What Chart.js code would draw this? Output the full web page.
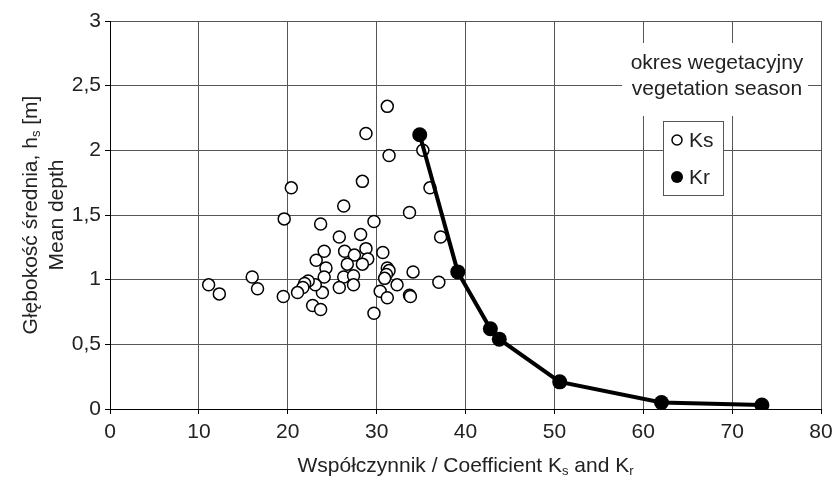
<!DOCTYPE html>
<html>
<head>
<meta charset="utf-8">
<script src="https://cdn.jsdelivr.net/npm/chart.js@4/dist/chart.umd.min.js"></script>
<style>
html,body{margin:0;padding:0;background:#fff;}
#wrap{width:832px;height:479px;}
</style>
</head>
<body>
<div id="wrap"><canvas id="c" width="832" height="479"></canvas></div>
<script>
// Ks – open circles
const ksK = [31.2, 28.8, 31.4, 28.4, 20.4, 26.3, 19.6, 33.7, 29.7, 23.7,
             25.8, 28.2, 24.1, 26.4, 28.8, 27.5, 29.0, 30.7, 23.2, 24.3,
             26.7, 28.4, 31.2, 31.4, 31.1, 30.9, 34.1, 16.0, 37.2, 36.0,
             35.2, 37.0, 24.1, 26.3, 27.4, 27.4, 25.8, 23.9, 23.1, 22.3,
             21.9, 21.7, 21.1, 19.5, 22.8, 23.7, 30.4, 31.2, 32.3, 33.7,
             33.8, 29.7, 11.1, 12.3, 16.6];
const ksH = [2.34, 2.13, 1.96, 1.76, 1.71, 1.57, 1.47, 1.52, 1.45, 1.43,
             1.33, 1.35, 1.22, 1.22, 1.24, 1.19, 1.16, 1.21, 1.15, 1.09,
             1.12, 1.12, 1.09, 1.07, 1.04, 1.01, 1.06, 1.02, 1.33, 1.71,
             2.00, 0.98, 1.02, 1.02, 1.03, 0.96, 0.94, 0.90, 0.96, 0.99,
             0.97, 0.94, 0.90, 0.87, 0.80, 0.77, 0.91, 0.86, 0.96, 0.88,
             0.87, 0.74, 0.96, 0.89, 0.93];
// Kr – filled circles joined by a line
const krK = [34.85, 39.13, 42.8, 43.8, 50.6, 62.05, 73.35];
const krH = [2.12, 1.06, 0.62, 0.54, 0.21, 0.05, 0.03];

const seriesNames = ['Ks', 'Kr'];
const noteLines = ['okres wegetacyjny', 'vegetation season'];
const yTitle1 = [{t:'Głębokość średnia, h'},{t:'s',sub:true},{t:' [m]'}];
const yTitle2 = [{t:'Mean depth'}];
const xTitle = [{t:'Współczynnik / Coefficient K'},{t:'s',sub:true},{t:' and K'},{t:'r',sub:true}];

const FONT = '"Liberation Sans", Arial, sans-serif';
const TXT = '#222';
const FS = 21;

function richWidth(ctx, parts, size){
  let w = 0;
  for (const p of parts){
    ctx.font = (p.sub ? Math.round(size*0.62) : size) + 'px ' + FONT;
    w += ctx.measureText(p.t).width;
  }
  return w;
}
function drawRich(ctx, parts, cx, cy, size){
  const w = richWidth(ctx, parts, size);
  let x = cx - w/2;
  ctx.textBaseline = 'middle';
  ctx.textAlign = 'left';
  ctx.fillStyle = TXT;
  for (const p of parts){
    const s = p.sub ? Math.round(size*0.62) : size;
    ctx.font = s + 'px ' + FONT;
    ctx.fillText(p.t, x, p.sub ? cy + size*0.28 : cy);
    x += ctx.measureText(p.t).width;
  }
}

const decor = {
  id: 'decor',
  beforeDatasetsDraw(chart){
    const ctx = chart.ctx, a = chart.chartArea;
    ctx.save();
    // white panel behind the note
    ctx.fillStyle = '#fff';
    ctx.fillRect(a.right - 199, 43, 186, 73);
    ctx.font = FS + 'px ' + FONT;
    ctx.fillStyle = TXT;
    ctx.textAlign = 'center';
    ctx.textBaseline = 'middle';
    const nx = a.right - 104;
    ctx.fillText(noteLines[0], nx, 63);
    ctx.fillText(noteLines[1], nx, 89);
    // legend box
    const lx = a.right - 158, ly = 121, lw = 60, lh = 74;
    ctx.fillStyle = '#fff';
    ctx.fillRect(lx, ly, lw, lh);
    ctx.strokeStyle = '#555';
    ctx.lineWidth = 1;
    ctx.strokeRect(lx + 0.5, ly + 0.5, lw, lh);
    // items
    ctx.beginPath();
    ctx.arc(lx + 14, ly + 19, 5, 0, Math.PI*2);
    ctx.fillStyle = '#fff'; ctx.fill();
    ctx.lineWidth = 1.5; ctx.strokeStyle = '#000'; ctx.stroke();
    ctx.beginPath();
    ctx.arc(lx + 14, ly + 56, 6, 0, Math.PI*2);
    ctx.fillStyle = '#000'; ctx.fill();
    ctx.fillStyle = TXT;
    ctx.textAlign = 'left';
    ctx.font = FS + 'px ' + FONT;
    ctx.fillText(seriesNames[0], lx + 26, ly + 20);
    ctx.fillText(seriesNames[1], lx + 26, ly + 57);
    ctx.restore();
  },
  afterDraw(chart){
    const ctx = chart.ctx, a = chart.chartArea;
    ctx.save();
    drawRich(ctx, xTitle, (a.left + a.right)/2, 466, FS);
    const cy = (a.top + a.bottom)/2;
    ctx.translate(31, cy);
    ctx.rotate(-Math.PI/2);
    drawRich(ctx, yTitle1, 0, 0, FS);
    ctx.restore();
    ctx.save();
    ctx.translate(57, cy);
    ctx.rotate(-Math.PI/2);
    drawRich(ctx, yTitle2, 0, 0, FS);
    ctx.restore();
  }
};

const ksData = ksK.map((k, i) => ({x: k, y: ksH[i]}));
const krData = krK.map((k, i) => ({x: k, y: krH[i]}));

new Chart(document.getElementById('c'), {
  type: 'scatter',
  data: {
    datasets: [
      {
        label: seriesNames[0],
        data: ksData,
        order: 2,
        pointRadius: 6,
        pointBorderWidth: 1.5,
        pointBackgroundColor: '#fff',
        pointBorderColor: '#000',
        showLine: false
      },
      {
        label: seriesNames[1],
        data: krData,
        order: 1,
        showLine: true,
        borderColor: '#000',
        borderWidth: 4,
        pointRadius: 7.5,
        pointBackgroundColor: '#000',
        pointBorderColor: '#000',
        pointBorderWidth: 0
      }
    ]
  },
  options: {
    responsive: false,
    animation: false,
    devicePixelRatio: 1,
    layout: {padding: {top: 21, right: 11, left: 0, bottom: 0}},
    plugins: {legend: {display: false}, tooltip: {enabled: false}},
    scales: {
      x: {
        type: 'linear', min: 0, max: 80,
        ticks: {stepSize: 10, color: TXT, font: {family: FONT, size: FS}, padding: 6, maxRotation: 0},
        grid: {color: '#555', tickColor: '#000', tickLength: 5, lineWidth: 1},
        border: {color: '#000', width: 1},
        afterFit(s){ s.height = 70; s.paddingRight = 0; s.paddingLeft = 0; }
      },
      y: {
        type: 'linear', min: 0, max: 3,
        ticks: {stepSize: 0.5, color: TXT, font: {family: FONT, size: FS}, padding: 4,
                callback: v => String(v).replace('.', ',')},
        grid: {color: '#555', tickColor: '#000', tickLength: 5, lineWidth: 1},
        border: {color: '#000', width: 1},
        afterFit(s){ s.width = 110; s.paddingTop = 0; s.paddingBottom = 0; }
      }
    }
  },
  plugins: [decor]
});
</script>
</body>
</html>
